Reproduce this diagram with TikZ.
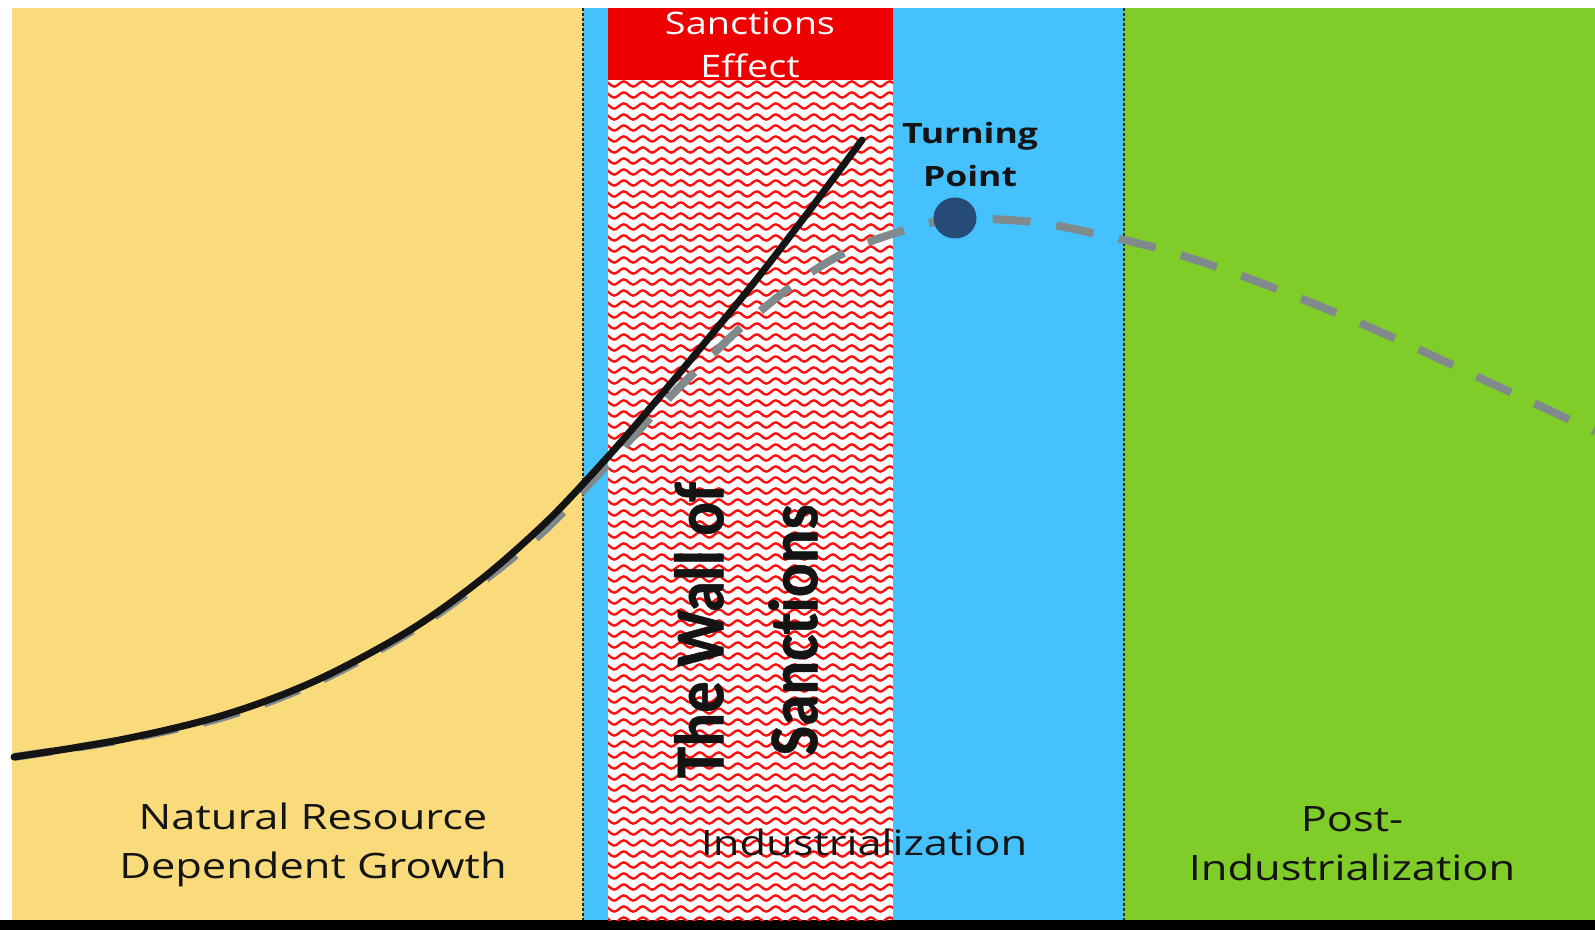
\documentclass[tikz,border=0pt]{standalone}
\usepackage{fontspec}
\newfontfamily\lblfont[FakeStretch=1.24]{Open Sans}
\newfontfamily\sefont[FakeStretch=1.22]{Open Sans}
\newfontfamily\tpfont[FakeStretch=1.27]{Open Sans}
\newfontfamily\wallfont[FakeStretch=0.9, Ligatures=NoCommon, BoldFeatures={FakeBold=0.6}]{Carlito}
\definecolor{nryellow}{HTML}{FADB7C}
\definecolor{indblue}{HTML}{45C1FE}
\definecolor{postgreen}{HTML}{80CC28}
\definecolor{sred}{HTML}{EE0000}
\definecolor{wavered}{HTML}{FF1010}
\definecolor{tpnavy}{HTML}{274B78}
\definecolor{curvegray}{HTML}{80898C}
\definecolor{txt}{HTML}{141414}
\tikzset{
  lbl/.style={font=\lblfont\fontsize{17.5pt}{24.5pt}\selectfont, text=txt, align=center, inner sep=0pt},
  selbl/.style={font=\sefont\fontsize{15.5pt}{21.5pt}\selectfont, text=white, align=center, inner sep=0pt},
  tplbl/.style={font=\tpfont\bfseries\fontsize{14pt}{21.5pt}\selectfont, text=txt, align=center, inner sep=0pt},
  walllbl/.style={font=\wallfont\bfseries\fontsize{35pt}{47pt}\selectfont, text=txt, align=center, inner sep=0pt},
  dotline/.style={draw=black!85, line width=1pt, dash pattern=on 1.6pt off 0.9pt},
  waveline/.style={draw=wavered, line width=1.2pt},
  growth/.style={draw=txt, line width=3.5pt, line cap=round},
  trend/.style={draw=curvegray, line width=4pt, dash pattern=on 19pt off 13pt},
}
\begin{document}
\begin{tikzpicture}[x=0.5pt,y=-0.5pt]
\useasboundingbox (0,0) rectangle (1595,930);
\fill[white] (0,0) rectangle (1595,930);
% phase bands
\fill[nryellow] (12,8) rectangle (583,920);
\fill[indblue] (583,8) rectangle (1124,920);
\fill[postgreen] (1124,8) rectangle (1595,920);
\fill[black] (0,920) rectangle (1595,930);
% wall of sanctions (wavy hatch)
\fill[white] (608,80) rectangle (893,920);
\begin{scope}
  \clip (608,80) rectangle (893,920);
  \foreach \r in {0,...,76} {
    \draw[waveline] (600,84+\r*11) \foreach \k in {1,...,16} { sin ++(4.75,-2.6) cos ++(4.75,2.6) sin ++(4.75,2.6) cos ++(4.75,-2.6) };
  }
\end{scope}
\fill[sred] (608,8) rectangle (893,80);
% dotted separators
\draw[dotline] (583,8) -- (583,920);
\draw[dotline] (1124,8) -- (1124,920);
% trend (dashed) curve
\draw[trend] plot[smooth, tension=0.55] coordinates {(14,757) (122,740) (224,717) (315,683) (407,634) (478,585) (545,530) (605,467) (666,401) (704,363) (745,324) (800,280) (850,250) (905,230) (956,219) (1033,222) (1097,234) (1164,250) (1231,272) (1292,295) (1353,320) (1416,348) (1480,378) (1553,412) (1595,432)};
% actual growth curve
\draw[growth] plot[smooth, tension=0.55] coordinates {(14,757) (122,739.5) (224,715) (315,681) (407,632) (478,582) (539,529) (583,484) (640,420) (740,300) (800,223) (862,140)};
% turning point
\fill[tpnavy] (955,218) ellipse (21.5 and 20.5);
% labels
\node[selbl] (se) at (750,45) {Sanctions\\Effect};
\node[tplbl] (tp) at (970,155) {Turning\\Point};
\node[walllbl, rotate=90] (wall) at (746,630) {The Wall of\\Sanctions};
\node[lbl] (nrdg) at (313,845) {Natural Resource\\Dependent Growth};
\node[lbl, anchor=base] (ind) at (864,855) {Industrialization};
\node[lbl] (post) at (1352,844) {Post-\\Industrialization};
\end{tikzpicture}
\end{document}
